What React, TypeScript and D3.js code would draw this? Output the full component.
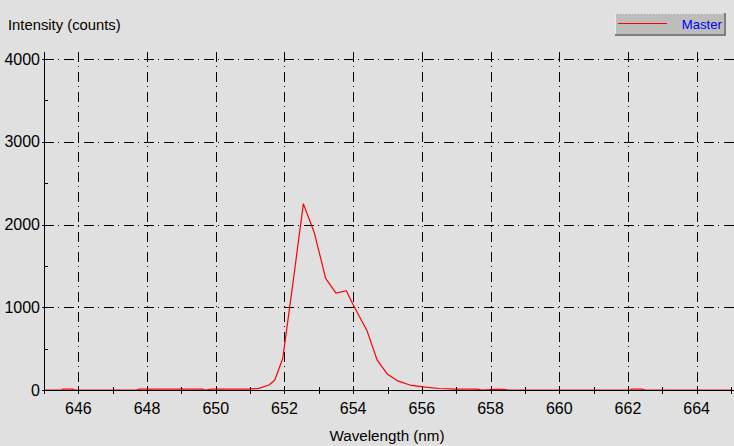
import * as d3 from 'd3';

// spectrum readout, wavelength in nm
const wavelengths = [
    645.0, 645.5, 645.55, 645.85, 645.9, 647.7, 647.75, 649.6, 649.7, 649.88,
    650.95, 651.25, 651.55, 651.72, 651.95, 652.25, 652.55, 652.87, 653.2, 653.5,
    653.8, 654.0, 654.4, 654.7, 655.0, 655.3, 655.65, 656.1, 656.5, 657.0,
    657.6, 657.75, 658.1, 658.4, 658.5, 662.05, 662.1, 662.4, 662.5, 665.0,
];
const counts = [
    0, 0, 10, 10, 0, 0, 10, 10, 0, 10,
    10, 20, 60, 120, 380, 1300, 2250, 1900, 1350, 1170,
    1200, 1030, 720, 360, 190, 110, 60, 35, 18, 10,
    10, 0, 8, 8, 0, 0, 10, 10, 0, 0,
];

const xTicks = [646, 648, 650, 652, 654, 656, 658, 660, 662, 664];
const xMinorTicks = [645, 647, 649, 651, 653, 655, 657, 659, 661, 663, 665];
const yTicks = [0, 1000, 2000, 3000, 4000];
const yMinorTicks = [500, 1500, 2500, 3500];

const seriesName = 'Master';
const yTitle = 'Intensity (counts)';
const xTitle = 'Wavelength (nm)';

const W = 734;
const H = 446;
const left = 44;
const right = 731;
const bottom = 390;
const top = 52;

const font = '"Liberation Sans", Arial, sans-serif';
const gridDash = '10,4,1,5';

export default function App() {
    const x = d3.scaleLinear().domain([645, 665]).range([left, right]);
    const y = d3.scaleLinear().domain([0, 4085]).range([bottom, top]);

    const points: [number, number][] = wavelengths.map((w, i) => [w, counts[i]]);
    const line = d3
        .line<[number, number]>()
        .x((d) => x(d[0]))
        .y((d) => y(d[1]));

    return (
        <svg
            width={W}
            height={H}
            style={{ position: 'absolute', left: 0, top: 0, display: 'block' }}
            fontFamily={font}
        >
            <rect x={0} y={0} width={W} height={H} fill="#e0e0e0" />

            <text x={8} y={30} fontSize={14.8} fill="#000">
                {yTitle}
            </text>

            {/* grid */}
            {xTicks.map((t) => (
                <line
                    key={'gx' + t}
                    x1={x(t) + 0.5}
                    x2={x(t) + 0.5}
                    y1={top}
                    y2={bottom}
                    stroke="#000"
                    strokeDasharray={gridDash}
                    shapeRendering="crispEdges"
                />
            ))}
            {yTicks
                .filter((t) => t > 0)
                .map((t) => (
                    <line
                        key={'gy' + t}
                        x1={left}
                        x2={W}
                        y1={Math.round(y(t)) + 0.5}
                        y2={Math.round(y(t)) + 0.5}
                        stroke="#000"
                        strokeDasharray={gridDash}
                        shapeRendering="crispEdges"
                    />
                ))}

            {/* data */}
            <path
                d={line(points) ?? ''}
                fill="none"
                stroke="#ff0000"
                strokeWidth={1.2}
                strokeLinejoin="round"
            />

            {/* axes */}
            <line x1={left + 0.5} x2={left + 0.5} y1={top} y2={bottom} stroke="#000" shapeRendering="crispEdges" />
            <line x1={left} x2={W} y1={bottom + 0.5} y2={bottom + 0.5} stroke="#000" shapeRendering="crispEdges" />

            {[...xTicks, ...xMinorTicks].map((t) => (
                <line
                    key={'tx' + t}
                    x1={x(t) + 0.5}
                    x2={x(t) + 0.5}
                    y1={bottom - 3}
                    y2={bottom + 4}
                    stroke="#000"
                    shapeRendering="crispEdges"
                />
            ))}
            {yTicks.map((t) => (
                <line
                    key={'ty' + t}
                    x1={left - 2}
                    x2={left + 4}
                    y1={Math.round(y(t)) + 0.5}
                    y2={Math.round(y(t)) + 0.5}
                    stroke="#000"
                    shapeRendering="crispEdges"
                />
            ))}
            {yMinorTicks.map((t) => (
                <line
                    key={'my' + t}
                    x1={left}
                    x2={left + 4}
                    y1={Math.round(y(t)) + 0.5}
                    y2={Math.round(y(t)) + 0.5}
                    stroke="#000"
                    shapeRendering="crispEdges"
                />
            ))}

            {xTicks.map((t) => (
                <text key={'lx' + t} x={x(t)} y={414} fontSize={16} textAnchor="middle" fill="#000">
                    {t}
                </text>
            ))}
            {yTicks.map((t) => (
                <text key={'ly' + t} x={40} y={y(t) + 5.5} fontSize={16} textAnchor="end" fill="#000">
                    {t}
                </text>
            ))}

            <text x={387} y={441} fontSize={15.2} textAnchor="middle" fill="#000">
                {xTitle}
            </text>

            {/* legend */}
            <g>
                <rect x={615} y={13} width={111} height={23} fill="#bdbdbb" />
                <line x1={615} x2={726} y1={13.5} y2={13.5} stroke="#ececec" strokeDasharray="2,1" />
                <line x1={615.5} x2={615.5} y1={13} y2={36} stroke="#ececec" />
                <line x1={615} x2={726} y1={35} y2={35} stroke="#808080" strokeWidth={2} />
                <line x1={725} x2={725} y1={13} y2={36} stroke="#808080" strokeWidth={2} />
                <line x1={618} x2={667} y1={23.5} y2={23.5} stroke="#ff0000" />
                <text x={722} y={29} fontSize={13.2} textAnchor="end" fill="#0000ff">
                    {seriesName}
                </text>
            </g>
        </svg>
    );
}
